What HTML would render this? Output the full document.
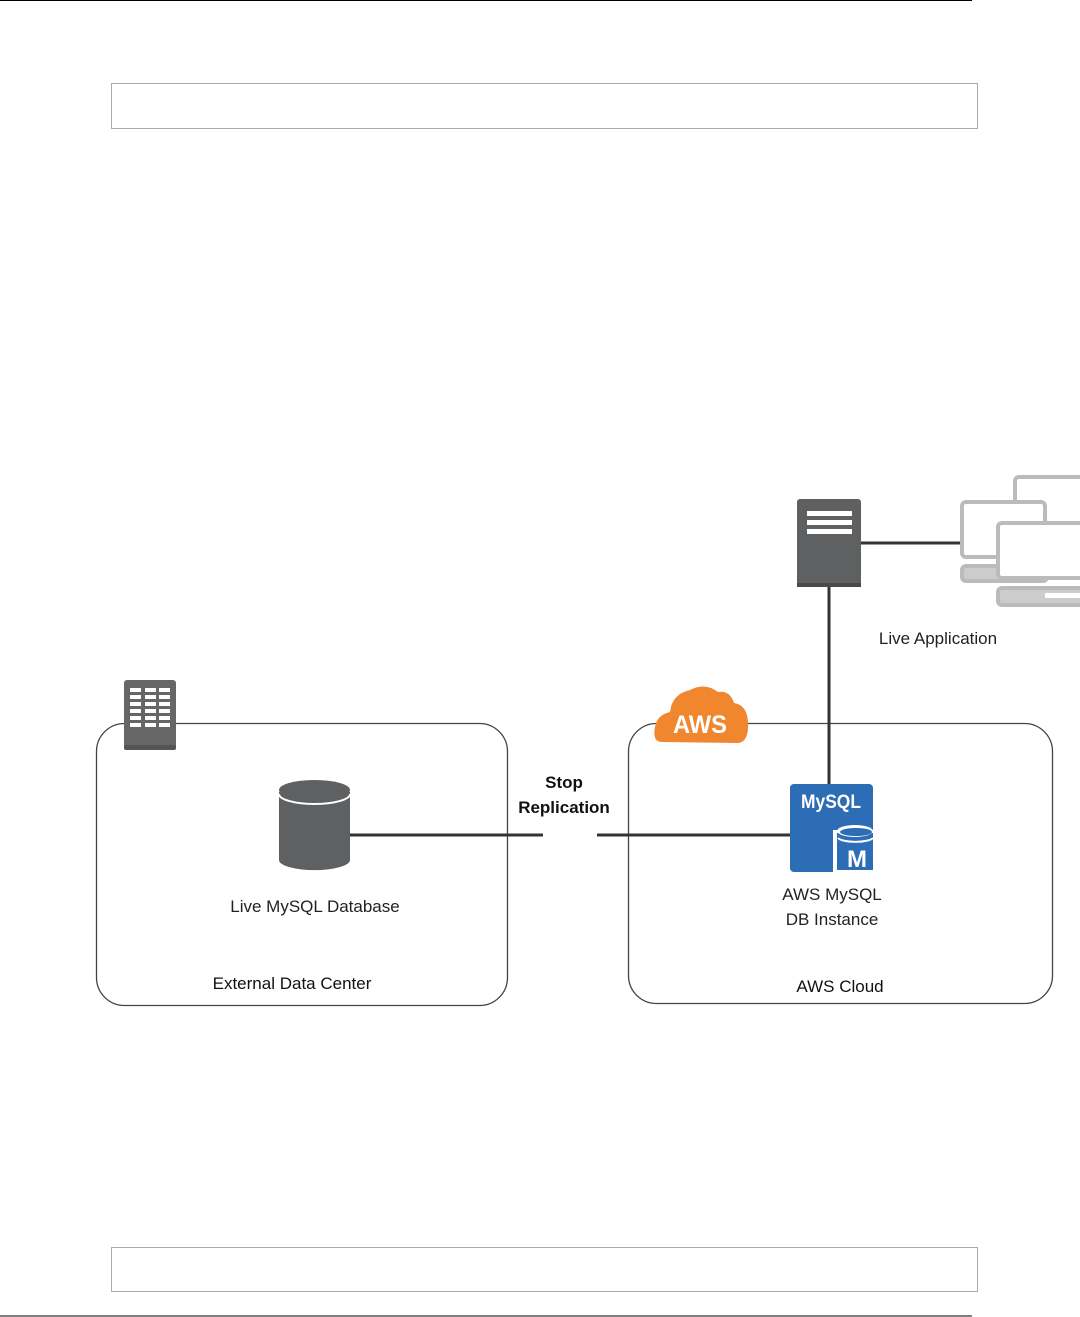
<!DOCTYPE html>
<html><head><meta charset="utf-8"><style>
html,body{margin:0;padding:0;background:#fff;}
svg{display:block;font-family:"Liberation Sans",sans-serif;}
</style></head><body>
<svg width="1080" height="1317" viewBox="0 0 1080 1317">
<line x1="0" y1="0.5" x2="972" y2="0.5" stroke="#000" stroke-width="1"/>
<line x1="0" y1="1316" x2="972" y2="1316" stroke="#000" stroke-width="1"/>
<rect x="111.5" y="83.5" width="866" height="45" fill="#fff" stroke="#aaa"/>
<rect x="111.5" y="1247.5" width="866" height="44" fill="#fff" stroke="#aaa"/>

<!-- containers -->
<rect x="96.5" y="723.5" width="411" height="282" rx="28" fill="none" stroke="#444" stroke-width="1.3"/>
<rect x="628.5" y="723.5" width="424" height="280" rx="28" fill="none" stroke="#444" stroke-width="1.3"/>

<!-- connectors -->
<line x1="350" y1="835" x2="543" y2="835" stroke="#333" stroke-width="3"/>
<line x1="597" y1="835" x2="790" y2="835" stroke="#333" stroke-width="3"/>
<line x1="829" y1="587" x2="829" y2="784" stroke="#333" stroke-width="3"/>
<line x1="861" y1="543" x2="962" y2="543" stroke="#333" stroke-width="3"/>

<!-- building -->
<rect x="124" y="680" width="52" height="70" rx="3" fill="#666"/>
<rect x="124" y="745" width="52" height="5" rx="2" fill="#555"/>
<g fill="#fff">
<rect x="130" y="688" width="11" height="4"/><rect x="145" y="688" width="11" height="4"/><rect x="159" y="688" width="11" height="4"/>
<rect x="130" y="695" width="11" height="4"/><rect x="145" y="695" width="11" height="4"/><rect x="159" y="695" width="11" height="4"/>
<rect x="130" y="702" width="11" height="4"/><rect x="145" y="702" width="11" height="4"/><rect x="159" y="702" width="11" height="4"/>
<rect x="130" y="709" width="11" height="4"/><rect x="145" y="709" width="11" height="4"/><rect x="159" y="709" width="11" height="4"/>
<rect x="130" y="716" width="11" height="4"/><rect x="145" y="716" width="11" height="4"/><rect x="159" y="716" width="11" height="4"/>
<rect x="130" y="723" width="11" height="4"/><rect x="145" y="723" width="11" height="4"/><rect x="159" y="723" width="11" height="4"/>
</g>

<!-- DB cylinder -->
<path d="M279 792 L279 860 A35 10 0 0 0 350 860 L350 792 Z" fill="#5f6062"/>
<ellipse cx="314.5" cy="790" rx="35.5" ry="10" fill="#5f6062"/>
<path d="M279 794 A35.5 10 0 0 0 350 794" fill="none" stroke="#fff" stroke-width="2"/>
<text x="315" y="912" font-size="17" text-anchor="middle" fill="#222">Live MySQL Database</text>
<text x="292" y="989" font-size="17" text-anchor="middle" fill="#111">External Data Center</text>

<text x="564" y="788" font-size="17" font-weight="bold" text-anchor="middle" fill="#111">Stop</text>
<text x="564" y="813" font-size="17" font-weight="bold" text-anchor="middle" fill="#111">Replication</text>

<!-- AWS cloud -->
<path d="M662 742 Q652 742 655 727 Q657 715 670 712 Q672 694 690 690 Q705 682 718 692 Q730 690 734 703 Q747 705 748 722 Q749 742 738 743 Z" fill="#f0862d"/>
<text x="700" y="733" font-size="25" font-weight="bold" text-anchor="middle" fill="#fff" textLength="54" lengthAdjust="spacingAndGlyphs">AWS</text>

<!-- MySQL icon -->
<rect x="790" y="784" width="83" height="88" rx="4" fill="#2d6db5"/>
<text x="831" y="808" font-size="19" font-weight="bold" text-anchor="middle" fill="#fff" textLength="60" lengthAdjust="spacingAndGlyphs">MySQL</text>
<path d="M833 830 L833 873 L873 873 L873 830 Z" fill="#fff"/>
<path d="M837 833 L837 870 L873 870 L873 833 Z" fill="#2d6db5"/>
<ellipse cx="855" cy="831" rx="18" ry="6" fill="#fff"/>
<ellipse cx="856" cy="832" rx="16" ry="4" fill="#2d6db5"/>
<path d="M838 838 A18 5 0 0 0 873 838" fill="none" stroke="#fff" stroke-width="2"/>
<text x="857" y="867" font-size="24" font-weight="bold" text-anchor="middle" fill="#fff">M</text>
<text x="832" y="900" font-size="17" text-anchor="middle" fill="#222">AWS MySQL</text>
<text x="832" y="925" font-size="17" text-anchor="middle" fill="#222">DB Instance</text>
<text x="840" y="992" font-size="17" text-anchor="middle" fill="#111">AWS Cloud</text>

<!-- server -->
<rect x="797" y="499" width="64" height="88" rx="3" fill="#5f6062"/>
<rect x="797" y="583" width="64" height="4" fill="#4a4a4c"/>
<rect x="807" y="511" width="45" height="5" fill="#fff"/>
<rect x="807" y="520" width="45" height="5" fill="#fff"/>
<rect x="807" y="529" width="45" height="5" fill="#fff"/>

<!-- computers -->
<g fill="#fff" stroke="#bbb" stroke-width="4">
<rect x="1015" y="477" width="70" height="50" rx="4"/>
<rect x="962" y="502" width="83" height="55" rx="4"/>
<rect x="962" y="566" width="85" height="15" rx="4" fill="#ccc"/>
<rect x="998" y="523" width="85" height="55" rx="4"/>
<rect x="998" y="588" width="85" height="17" rx="4" fill="#ccc"/>
</g>
<rect x="1045" y="593" width="35" height="5" fill="#fff"/>
<text x="938" y="644" font-size="17" text-anchor="middle" fill="#222">Live Application</text>
</svg>
</body></html>
